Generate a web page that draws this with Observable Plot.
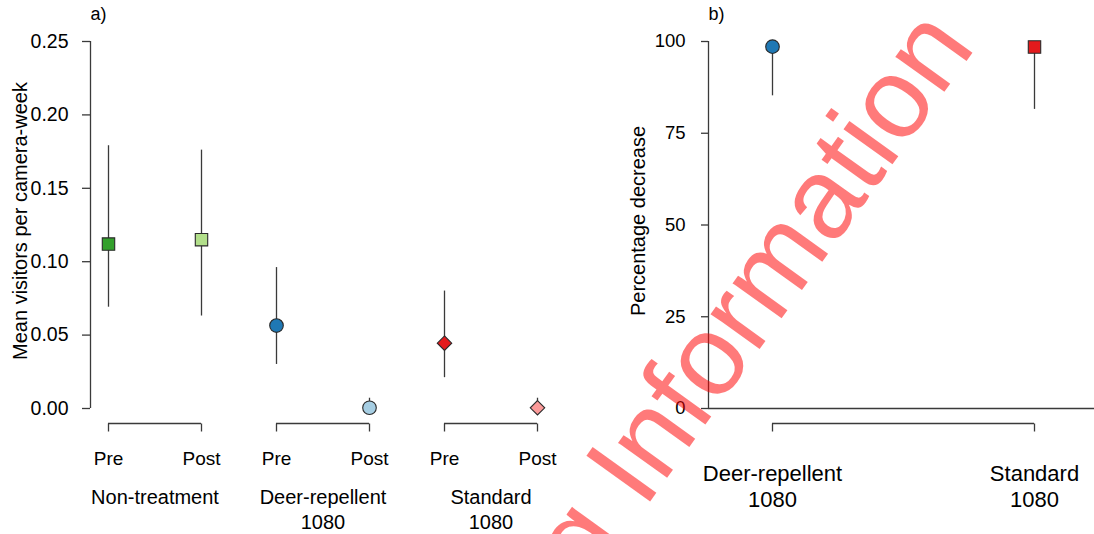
<!DOCTYPE html>
<html><head><meta charset="utf-8">
<script src="https://cdn.jsdelivr.net/npm/d3@7"></script>
<script src="https://cdn.jsdelivr.net/npm/@observablehq/plot@0.6"></script>
<style>
body{margin:0;background:#fff;}
#wrap{position:relative;width:1094px;height:534px;display:flex;overflow:hidden;}
#wm{position:absolute;left:0;top:0;pointer-events:none;}
</style></head><body>
<div id="wrap"><div id="a"></div><div id="b"></div>
<svg id="wm" width="1094" height="534">
  <g transform="translate(644,510) rotate(-54.3)" fill="#ff0000" fill-opacity="0.52" font-family="Liberation Sans, Arial, sans-serif" font-size="114">
    <text x="0" y="0">Information</text>
    <text x="-32" y="0" text-anchor="end">Supporting</text>
  </g>
</svg></div>
<script>
// ---- Panel a data ----
const groups = ["Non-treatment", "Deer-repellent\n1080", "Standard\n1080"];
const phases = ["Pre", "Post"];
const visitGroup = [groups[0], groups[0], groups[1], groups[1], groups[2], groups[2]];
const visitPhase = ["Pre", "Post", "Pre", "Post", "Pre", "Post"];
const visitMean  = [0.112, 0.115, 0.0565, 0.0005, 0.0445, 0.0005];
const visitLower = [0.069, 0.063, 0.030, 0.000, 0.021, 0.000];
const visitUpper = [0.179, 0.176, 0.096, 0.007, 0.080, 0.007];
const visitColor = ["#33a02c", "#b2df8a", "#1f78b4", "#a6cee3", "#e31a1c", "#fb9a99"];
const visitSymbol = ["square", "square", "circle", "circle", "diamond2", "diamond2"];
const visitTicks = [0, 0.05, 0.10, 0.15, 0.20, 0.25];

// ---- Panel b data ----
const decGroups = ["Deer-repellent\n1080", "Standard\n1080"];
const decMean  = [98.6, 98.5];
const decLower = [85.2, 81.5];
const decUpper = [100, 100];
const decColor = ["#1f78b4", "#e31a1c"];
const decSymbol = ["circle", "square"];
const decTicks = [0, 25, 50, 75, 100];

const visits = visitMean.map((m, i) => ({group: visitGroup[i], phase: visitPhase[i], mean: m,
  lower: visitLower[i], upper: visitUpper[i], color: visitColor[i], symbol: visitSymbol[i]}));
const decs = decMean.map((m, i) => ({group: decGroups[i], mean: m, lower: decLower[i],
  upper: decUpper[i], color: decColor[i], symbol: decSymbol[i]}));

const FONT = "Liberation Sans, Arial, Helvetica, sans-serif";
const LINE = "#3a3a3a";
const RSYM = {circle: 6.8, square: 7.0, diamond2: 6.5};
const bracketTick = {draw(ctx) { ctx.moveTo(0, 0); ctx.lineTo(0, 8); }};

function symbolDots(data, opts) {
  return Object.keys(RSYM).map(s => Plot.dot(data.filter(d => d.symbol === s), {
    ...opts, y: "mean", symbol: s, r: RSYM[s], fill: "color", stroke: "#2a2a2a", strokeWidth: 1.1
  }));
}

const plotA = Plot.plot({
  width: 600, height: 534,
  marginLeft: 108, marginRight: 62, marginTop: 41, marginBottom: 126,
  style: {fontFamily: FONT, fontSize: "20px", color: "#000", background: "white"},
  fx: {domain: groups, paddingInner: 0.445, paddingOuter: 0, axis: null, label: null},
  x: {type: "point", domain: phases, padding: 0, axis: null},
  y: {domain: [0, 0.25], axis: null},
  marks: [
    Plot.ruleX([{group: groups[0], phase: phases[0]}], {fx: "group", x: "phase", y1: () => 0, y2: () => 0.25, dx: -18, stroke: LINE, strokeWidth: 1.3}),
    Plot.axisY(visitTicks, {tickFormat: d3.format(".2f"), tickSize: 8, tickPadding: 14, dx: -18, fontSize: 19.5, stroke: LINE, strokeWidth: 1.3, label: null}),
    Plot.ruleX(visits, {fx: "group", x: "phase", y1: "lower", y2: "upper", stroke: LINE, strokeWidth: 1.3}),
    ...symbolDots(visits, {fx: "group", x: "phase"}),
    Plot.ruleY(groups, {fx: d => d, x1: () => phases[0], x2: () => phases[1], y: () => 0, dy: 15, stroke: LINE, strokeWidth: 1.3}),
    Plot.dot(visits, {fx: "group", x: "phase", y: () => 0, dy: 15, symbol: bracketTick, r: 3, fill: "none", stroke: LINE, strokeWidth: 1.3}),
    Plot.text(visits, {fx: "group", x: "phase", y: () => 0, text: "phase", dy: 43, lineAnchor: "top", fontSize: 19, fill: "#000"}),
    Plot.text(groups, {fx: d => d, text: d => d, frameAnchor: "bottom", lineAnchor: "top", dy: 78, lineHeight: 1.25, fontSize: 20, fill: "#000"}),
    Plot.text(["a)"], {fx: () => groups[0], text: d => d, frameAnchor: "top-left", textAnchor: "start", lineAnchor: "top", dx: -18, dy: -34, fontSize: 18, fill: "#000"}),
    Plot.text(["Mean visitors per camera-week"], {fx: () => groups[0], text: d => d, frameAnchor: "left", textAnchor: "middle", lineAnchor: "middle", rotate: -90, dx: -88, dy: -4, fontSize: 20, fill: "#000"})
  ]
});
document.getElementById("a").append(plotA);

const plotB = Plot.plot({
  width: 494, height: 534,
  marginLeft: 172, marginRight: 60, marginTop: 41, marginBottom: 126,
  style: {fontFamily: FONT, fontSize: "20px", color: "#000", background: "white"},
  x: {type: "point", domain: decGroups, padding: 0, axis: null},
  y: {domain: [0, 100], axis: null},
  marks: [
    Plot.ruleY([0], {insetLeft: -64, insetRight: -60, stroke: LINE, strokeWidth: 1.3}),
    Plot.ruleX([decGroups[0]], {x: d => d, y1: () => 0, y2: () => 100, dx: -64, stroke: LINE, strokeWidth: 1.3}),
    Plot.axisY(decTicks, {tickSize: 7, tickPadding: 16, dx: -64, fontSize: 18.5, stroke: LINE, strokeWidth: 1.3, label: null}),
    Plot.ruleX(decs, {x: "group", y1: "lower", y2: "upper", stroke: LINE, strokeWidth: 1.3}),
    ...symbolDots(decs, {x: "group"}),
    Plot.ruleY([0], {x1: () => decGroups[0], x2: () => decGroups[1], dy: 15, stroke: LINE, strokeWidth: 1.3}),
    Plot.dot(decs, {x: "group", y: () => 0, dy: 15, symbol: bracketTick, r: 3, fill: "none", stroke: LINE, strokeWidth: 1.3}),
    Plot.text(decs, {x: "group", y: () => 0, text: "group", lineAnchor: "top", dy: 53, lineHeight: 1.22, fontSize: 22, fill: "#000"}),
    Plot.text(["b)"], {text: d => d, frameAnchor: "top-left", textAnchor: "start", lineAnchor: "top", dx: -64, dy: -34, fontSize: 18, fill: "#000"}),
    Plot.text(["Percentage decrease"], {text: d => d, frameAnchor: "left", textAnchor: "middle", lineAnchor: "middle", rotate: -90, dx: -134, dy: -4, fontSize: 20, fill: "#000"})
  ]
});
document.getElementById("b").append(plotB);
</script>
</body></html>
